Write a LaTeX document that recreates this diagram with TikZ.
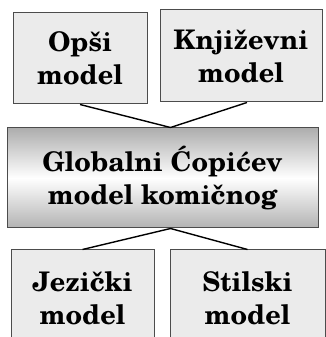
\documentclass[tikz,border=0pt]{standalone}
\usepackage{fontspec}
\setmainfont{TeX Gyre Schola}
\usepackage{tikz}

\begin{document}
\begin{tikzpicture}[x=1pt,y=1pt,
  box/.style={draw=black!70,line width=1pt,fill=black!8,align=center,
    font=\fontsize{27}{33}\selectfont\bfseries,inner sep=0pt},
  glob/.style={box,top color=black!32,bottom color=black!30,middle color=white}]
\useasboundingbox (0,0) rectangle (326,337);
\node[box,minimum width=134,minimum height=91] (opsi) at (80,278.5) {Opši\\model};
\node[box,minimum width=162,minimum height=92] (knjiz) at (241,281) {Književni\\model};
\node[glob,minimum width=311,minimum height=100] (glob) at (162.5,159) {Globalni Ćopićev\\model komičnog};
\node[box,minimum width=143,minimum height=96] (jez) at (82.5,39) {Jezički\\model};
\node[box,minimum width=155,minimum height=96] (stil) at (247.5,39) {Stilski\\model};

\draw[line width=1.4pt] (opsi.south)--([xshift=8]glob.north)--([xshift=6]knjiz.south);
\draw[line width=1.4pt] (jez.north)--([xshift=8]glob.south)--(stil.north);
\end{tikzpicture}
\end{document}
